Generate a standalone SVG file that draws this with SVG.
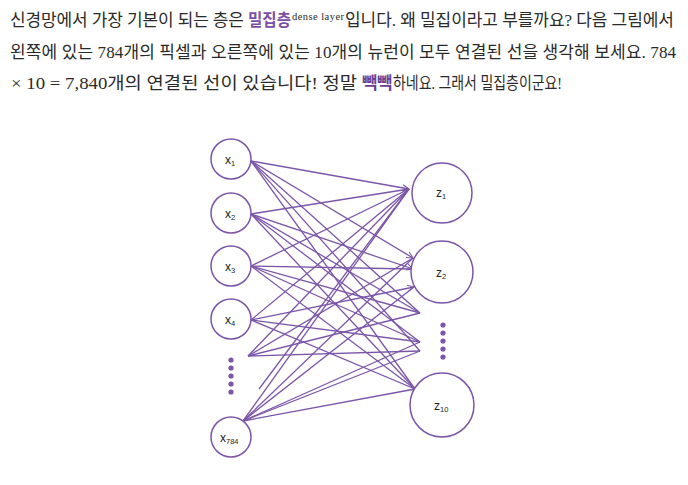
<svg xmlns="http://www.w3.org/2000/svg" width="688" height="485" viewBox="0 0 688 485">
<defs>
<style>
.t{font-family:"Liberation Serif","Noto Sans CJK KR",serif;font-size:17px;fill:#2a2a2a}
.hl{font-family:"Noto Sans CJK KR",sans-serif;font-weight:bold;font-size:17px;fill:#7b4fa6}
.sup{font-family:"Liberation Serif",serif;font-size:10.5px;fill:#2a2a2a}
.n{fill:#fff;stroke:#7b55a8;stroke-width:1.5}
.c line{stroke:#7b55a8;stroke-width:1.3;fill:none}
.lb{font-family:"Liberation Sans",Arial,sans-serif;font-size:12px;fill:#222}
.sb{font-size:7.5px}
.dot{fill:#7b55a8}
</style>
<marker id="ah" viewBox="0 0 10 10" refX="9" refY="5" markerWidth="8" markerHeight="8" orient="auto" markerUnits="userSpaceOnUse">
<path d="M1,1 L9,5 L1,9" fill="none" stroke="#7b55a8" stroke-width="1.3"/>
</marker>
</defs>
<rect width="688" height="485" fill="#fff"/>

<text class="t" x="10" y="26" textLength="234" lengthAdjust="spacing">신경망에서 가장 기본이 되는 층은</text>
<text class="hl" x="248" y="26" textLength="43" lengthAdjust="spacingAndGlyphs">밀집층</text>
<text class="sup" x="292" y="20" textLength="52" lengthAdjust="spacing">dense layer</text>
<text class="t" x="345" y="26" textLength="329" lengthAdjust="spacing">입니다. 왜 밀집이라고 부를까요? 다음 그림에서</text>
<text class="t" x="10" y="58" textLength="666" lengthAdjust="spacing">왼쪽에 있는 784개의 픽셀과 오른쪽에 있는 10개의 뉴런이 모두 연결된 선을 생각해 보세요. 784</text>
<text class="t" x="11" y="89" textLength="346" lengthAdjust="spacingAndGlyphs">× 10 = 7,840개의 연결된 선이 있습니다! 정말</text>
<text class="hl" x="362" y="89" textLength="30" lengthAdjust="spacingAndGlyphs" style="fill:#6b3f8f">빽빽</text>
<text class="t" x="393" y="89" textLength="169" lengthAdjust="spacingAndGlyphs">하네요. 그래서 밀집층이군요!</text>

<g id="connectors" class="c">
<line x1="251" y1="161" x2="409" y2="189" marker-end="url(#ah)"/>
<line x1="251" y1="161" x2="413" y2="258" marker-end="url(#ah)"/>
<line x1="251" y1="161" x2="420" y2="313"/>
<line x1="251" y1="161" x2="420" y2="351"/>
<line x1="251" y1="161" x2="415" y2="389"/>
<line x1="251" y1="214" x2="409" y2="189"/>
<line x1="251" y1="214" x2="413" y2="269" marker-end="url(#ah)"/>
<line x1="251" y1="214" x2="420" y2="313"/>
<line x1="251" y1="214" x2="420" y2="342"/>
<line x1="251" y1="214" x2="415" y2="389"/>
<line x1="251" y1="266" x2="409" y2="189"/>
<line x1="251" y1="266" x2="413" y2="269"/>
<line x1="251" y1="266" x2="420" y2="313"/>
<line x1="251" y1="266" x2="420" y2="342"/>
<line x1="251" y1="266" x2="415" y2="389"/>
<line x1="251" y1="320" x2="409" y2="189"/>
<line x1="251" y1="320" x2="414" y2="287" marker-end="url(#ah)"/>
<line x1="251" y1="320" x2="420" y2="342"/>
<line x1="251" y1="320" x2="415" y2="389"/>
<line x1="248" y1="356" x2="409" y2="189"/>
<line x1="248" y1="356" x2="413" y2="258"/>
<line x1="248" y1="356" x2="420" y2="351"/>
<line x1="248" y1="356" x2="420" y2="313"/>
<line x1="259" y1="389" x2="409" y2="189"/>
<line x1="243" y1="421" x2="409" y2="189"/>
<line x1="243" y1="421" x2="413" y2="258"/>
<line x1="243" y1="421" x2="414" y2="287"/>
<line x1="243" y1="421" x2="420" y2="342"/>
<line x1="243" y1="421" x2="420" y2="351"/>
<line x1="243" y1="421" x2="415" y2="389"/>
</g>

<g id="x1"><circle class="n" cx="231" cy="159" r="20"/><text class="lb" x="225" y="164">x<tspan class="sb" dy="2">1</tspan></text></g>
<g id="x2"><circle class="n" cx="231" cy="213" r="20"/><text class="lb" x="225" y="218">x<tspan class="sb" dy="2">2</tspan></text></g>
<g id="x3"><circle class="n" cx="231" cy="266" r="20"/><text class="lb" x="225" y="271">x<tspan class="sb" dy="2">3</tspan></text></g>
<g id="x4"><circle class="n" cx="231" cy="319" r="20"/><text class="lb" x="225" y="324">x<tspan class="sb" dy="2">4</tspan></text></g>
<g id="xdots">
<circle class="dot" cx="231" cy="360" r="2.6"/><circle class="dot" cx="231" cy="368" r="2.6"/><circle class="dot" cx="231" cy="376" r="2.6"/><circle class="dot" cx="231" cy="384" r="2.6"/><circle class="dot" cx="231" cy="392" r="2.6"/>
</g>
<g id="x784"><circle class="n" cx="231" cy="437" r="20"/><text class="lb" x="220" y="442">x<tspan class="sb" dy="2">784</tspan></text></g>

<g id="z1"><circle class="n" cx="442" cy="193" r="30"/><text class="lb" x="436" y="197">z<tspan class="sb" dy="2">1</tspan></text></g>
<g id="z2"><circle class="n" cx="442" cy="272" r="31"/><text class="lb" x="436" y="277">z<tspan class="sb" dy="2">2</tspan></text></g>
<g id="zdots">
<circle class="dot" cx="443" cy="325" r="2.6"/><circle class="dot" cx="443" cy="333" r="2.6"/><circle class="dot" cx="443" cy="341" r="2.6"/><circle class="dot" cx="443" cy="349" r="2.6"/><circle class="dot" cx="443" cy="357" r="2.6"/>
</g>
<g id="z10"><circle class="n" cx="442" cy="405" r="32"/><text class="lb" x="434" y="410">z<tspan class="sb" dy="2">10</tspan></text></g>
</svg>
